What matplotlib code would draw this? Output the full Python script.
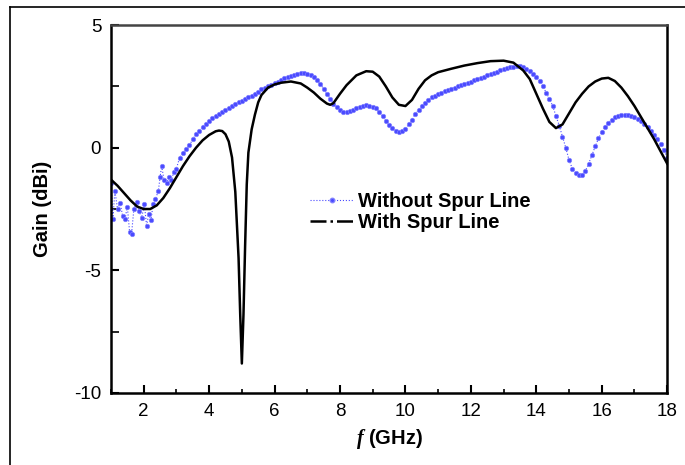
import matplotlib
matplotlib.use("Agg")
import matplotlib.pyplot as plt
from matplotlib.lines import Line2D
from matplotlib.ticker import MultipleLocator

plt.rcParams['font.family'] = ['Liberation Sans', 'DejaVu Sans']
plt.rcParams['mathtext.fontset'] = 'custom'
plt.rcParams['mathtext.it'] = 'Liberation Serif:italic:bold'
plt.rcParams['axes.unicode_minus'] = False

# Without Spur Line (blue dotted markers)
f_without = [1.00, 1.06, 1.12, 1.20, 1.28, 1.36, 1.43, 1.50, 1.57, 1.63, 1.70, 1.79, 1.86, 1.94,
             2.02, 2.09, 2.15, 2.22, 2.29, 2.36, 2.45, 2.50, 2.55, 2.62, 2.70, 2.78, 2.85, 2.92,
             3.0, 3.1, 3.2, 3.3, 3.4, 3.5, 3.6, 3.7, 3.8, 3.9, 4.0, 4.1, 4.2, 4.3, 4.4, 4.5, 4.6, 4.7,
             4.8, 4.9, 5.0, 5.1, 5.2, 5.3, 5.4, 5.5, 5.6, 5.7, 5.8, 5.9, 6.0, 6.1, 6.2, 6.3, 6.4,
             6.5, 6.6, 6.7, 6.8, 6.9, 7.0, 7.1, 7.2, 7.3, 7.4, 7.5, 7.6, 7.7, 7.8, 7.9, 8.0, 8.1,
             8.2, 8.3, 8.4, 8.5, 8.6, 8.7, 8.8, 8.9, 9.0, 9.1, 9.2, 9.3, 9.4, 9.5, 9.6, 9.7, 9.8,
             9.9, 10.0, 10.1, 10.2, 10.3, 10.4, 10.5, 10.6, 10.7, 10.8, 10.9, 11.0, 11.1, 11.2,
             11.3, 11.4, 11.5, 11.6, 11.7, 11.8, 11.9, 12.0, 12.1, 12.2, 12.3, 12.4, 12.5, 12.6,
             12.7, 12.8, 12.9, 13.0, 13.1, 13.2, 13.3, 13.4, 13.5, 13.6, 13.7, 13.8, 13.9, 14.0,
             14.1, 14.2, 14.3, 14.4, 14.5, 14.6, 14.7, 14.8, 14.9, 15.0, 15.1, 15.2, 15.3, 15.4,
             15.5, 15.6, 15.7, 15.8, 15.9, 16.0, 16.1, 16.2, 16.3, 16.4, 16.5, 16.6, 16.7, 16.8,
             16.9, 17.0, 17.1, 17.2, 17.3, 17.4, 17.5, 17.6, 17.7, 17.8, 17.9, 18.0]
gain_without = [-1.45, -2.9, -1.75, -2.5, -2.25, -2.8, -2.9, -2.4, -3.45, -3.5, -2.5, -2.2, -2.6, -2.85,
                -2.3, -3.2, -2.7, -2.95, -2.3, -2.1, -1.75, -1.2, -0.75, -1.3, -1.45, -1.2, -1.3, -1.0,
                -0.85, -0.4, -0.2, -0.05, 0.1, 0.35, 0.55, 0.7, 0.85, 0.97, 1.08, 1.2, 1.3, 1.38, 1.45,
                1.53, 1.6, 1.69, 1.78, 1.85, 1.92, 1.98, 2.05, 2.12, 2.2, 2.29, 2.38, 2.44, 2.5, 2.56,
                2.62, 2.7, 2.78, 2.83, 2.88, 2.93, 2.98, 3.01, 3.03, 3.03, 3.02, 2.95, 2.88, 2.75, 2.6,
                2.4, 2.2, 2.0, 1.8, 1.65, 1.52, 1.47, 1.47, 1.5, 1.55, 1.62, 1.68, 1.72, 1.74, 1.72,
                1.68, 1.6, 1.45, 1.28, 1.1, 0.92, 0.8, 0.7, 0.65, 0.67, 0.78, 0.95, 1.15, 1.38, 1.55,
                1.7, 1.83, 1.95, 2.05, 2.12, 2.18, 2.24, 2.3, 2.35, 2.4, 2.45, 2.5, 2.55, 2.6, 2.65,
                2.7, 2.75, 2.8, 2.85, 2.9, 2.95, 3.0, 3.05, 3.1, 3.15, 3.2, 3.24, 3.28, 3.31, 3.33,
                3.33, 3.3, 3.22, 3.12, 3.0, 2.87, 2.72, 2.5, 2.25, 2.0, 1.7, 1.3, 0.9, 0.45, 0.0,
                -0.5, -0.85, -1.05, -1.12, -1.1, -0.95, -0.65, -0.3, 0.05, 0.38, 0.65, 0.85, 1.02,
                1.15, 1.25, 1.3, 1.34, 1.35, 1.33, 1.3, 1.25, 1.18, 1.1, 0.98, 0.85, 0.68, 0.5, 0.35,
                0.15, -0.1, -0.4]

# With Spur Line (black solid)
f_with = [1.0, 1.2, 1.4, 1.6, 1.8, 2.0, 2.2, 2.4, 2.6, 2.8, 3.0, 3.2, 3.4, 3.6, 3.8, 4.0, 4.2, 4.3,
          4.4, 4.5, 4.6, 4.7, 4.8, 4.9, 4.95, 5.0, 5.05, 5.1, 5.15, 5.2, 5.3, 5.4, 5.5, 5.6, 5.8,
          6.0, 6.2, 6.5, 6.8, 7.0, 7.2, 7.4, 7.6, 7.7, 7.8, 8.0, 8.2, 8.5, 8.8, 9.0, 9.2, 9.4,
          9.6, 9.8, 10.0, 10.2, 10.4, 10.6, 10.8, 11.0, 11.4, 11.8, 12.2, 12.6, 13.0, 13.3, 13.6,
          13.8, 14.0, 14.2, 14.4, 14.6, 14.8, 15.0, 15.2, 15.4, 15.6, 15.8, 16.0, 16.2, 16.4,
          16.6, 16.8, 17.0, 17.2, 17.4, 17.6, 17.8, 18.0]
gain_with = [-1.3, -1.55, -1.85, -2.15, -2.4, -2.5, -2.5, -2.35, -2.05, -1.65, -1.2, -0.75, -0.35,
             0.0, 0.3, 0.52, 0.67, 0.7, 0.68, 0.55, 0.25, -0.4, -1.8, -4.5, -6.8, -8.8, -6.8, -4.0,
             -1.5, -0.2, 0.75, 1.35, 1.85, 2.15, 2.45, 2.58, 2.65, 2.7, 2.62, 2.45, 2.25, 2.0, 1.8,
             1.75, 1.82, 2.2, 2.55, 2.95, 3.12, 3.1, 2.9, 2.5, 2.05, 1.75, 1.7, 1.95, 2.4, 2.75,
             2.95, 3.08, 3.22, 3.35, 3.45, 3.53, 3.55, 3.47, 3.15, 2.8, 2.2, 1.6, 1.05, 0.8, 0.95,
             1.4, 1.85, 2.2, 2.5, 2.7, 2.82, 2.85, 2.72, 2.45, 2.1, 1.7, 1.25, 0.8, 0.35, -0.15,
             -0.65]

x_ticks = [2, 4, 6, 8, 10, 12, 14, 16, 18]
y_ticks = [-10, -5, 0, 5]
labels = ["Without Spur Line", "With Spur Line"]

blue = '#4a4aff'

fig = plt.figure(figsize=(6.85, 4.65), dpi=100)
ax = fig.add_axes([0.162, 0.155, 0.812, 0.791])

ax.plot(f_without, gain_without, linestyle=':', linewidth=0.8, color=blue,
        marker='o', markersize=3.2, markerfacecolor=blue, markeredgecolor='#8080ff',
        markeredgewidth=0.5, zorder=2)
ax.plot(f_with, gain_with, color='black', linewidth=1.8, zorder=3)

ax.set_xlim(1, 18)
ax.set_ylim(-10, 5)
ax.set_xticks(x_ticks)
ax.set_yticks(y_ticks)
ax.xaxis.set_minor_locator(MultipleLocator(1))
ax.yaxis.set_minor_locator(MultipleLocator(2.5))
ax.tick_params(which='major', direction='in', length=6, width=1.5, labelsize=13.5, pad=7)
ax.tick_params(which='minor', direction='in', length=3, width=1.2)
ax.tick_params(axis='y', which='minor', length=6)
for s in ax.spines.values():
    s.set_linewidth(1.8)
ax.spines['top'].set_color('#444444')

ax.set_xlabel(r"$f$ (GHz)", fontsize=14.5, fontweight='bold', labelpad=5)
ax.set_ylabel("Gain (dBi)", fontsize=14.5, fontweight='bold', labelpad=16)

handles = [
    Line2D([0], [0], linestyle=':', linewidth=0.8, color=blue, marker='o', markersize=3.2,
           markevery=[1], markerfacecolor=blue, markeredgecolor='#8080ff'),
    Line2D([0], [0], linestyle='-.', linewidth=1.8, color='black'),
]
for h in handles:
    h.set_data([0, 0.5, 1], [0, 0, 0])
leg = ax.legend(handles, labels, loc='upper left', bbox_to_anchor=(0.343, 0.568),
                frameon=False, prop={'weight': 'bold', 'size': 14.5},
                handlelength=2.2, handletextpad=0.2, labelspacing=0.12, borderaxespad=0)

# figure border lines (top and left)
fig.add_artist(Line2D([10/685, 1], [1 - 7/465, 1 - 7/465], transform=fig.transFigure,
                      color='black', linewidth=1.2))
fig.add_artist(Line2D([10/685, 10/685], [0, 1 - 7/465], transform=fig.transFigure,
                      color='black', linewidth=1.2))

fig.savefig("out.png", dpi=100)
